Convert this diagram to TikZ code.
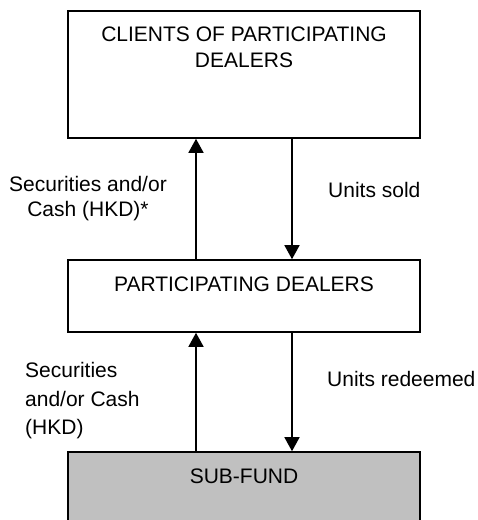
\documentclass[tikz,border=0pt]{standalone}
\usepackage{fontspec}
\setmainfont{Liberation Sans}
\usetikzlibrary{arrows.meta}
\begin{document}
\begin{tikzpicture}[x=1pt,y=-1pt,
  box/.style={draw=black,line width=1.6pt,rectangle,inner sep=0pt},
  lbl/.style={font=\fontsize{21}{25}\selectfont,inner sep=0pt,anchor=base},
  lbll/.style={lbl,anchor=base west},
  arr/.style={line width=1.5pt,-{Triangle[width=15pt,length=14pt]}}]
\useasboundingbox (0,0) rectangle (478,520);
\clip (0,0) rectangle (478,520);
% boxes
\node[box,minimum width=352pt,minimum height=127pt] (clients) at (244,74.5) {};
\node[box,minimum width=352pt,minimum height=72pt] (pd) at (244,296) {};
\node[box,fill={rgb,255:red,192;green,192;blue,192},minimum width=352pt,minimum height=74pt] (fund) at (244,489) {};
% box texts
\node[lbl] (t1) at (244,41) {CLIENTS OF PARTICIPATING};
\node[lbl] (t2) at (244,67) {DEALERS};
\node[lbl] (t3) at (244,291) {PARTICIPATING DEALERS};
\node[lbl] (t4) at (244,483) {SUB-FUND};
% connector columns
\coordinate (cl) at (196,0);
\coordinate (cr) at (292,0);
\draw[arr] (pd.north -| cl) -- (clients.south -| cl);
\draw[arr] (clients.south -| cr) -- (pd.north -| cr);
\draw[arr] (fund.north -| cl) -- (pd.south -| cl);
\draw[arr] (pd.south -| cr) -- (fund.north -| cr);
% labels
\node[lbl] (l1) at (88,191) {Securities and/or};
\node[lbl] (l2) at (88,216) {Cash (HKD)*};
\node[lbll] (l3) at (328,197) {Units sold};
\node[lbll] (l4) at (25,377) {Securities};
\node[lbll] (l5) at (25,406) {and/or Cash};
\node[lbll] (l6) at (25,434) {(HKD)};
\node[lbll] (l7) at (327,386) {Units redeemed};
\end{tikzpicture}
\end{document}
